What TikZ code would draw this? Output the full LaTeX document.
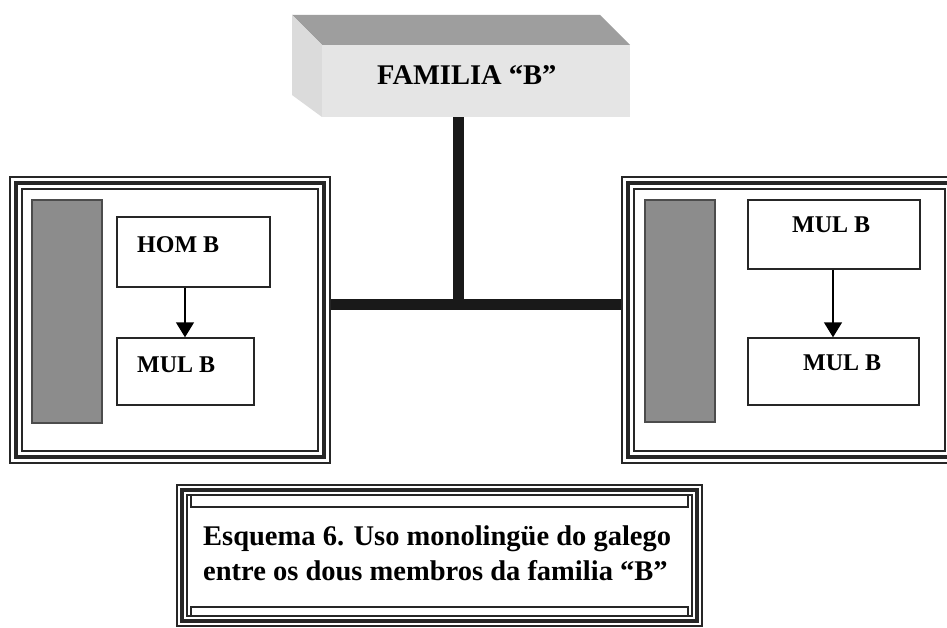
\documentclass[tikz,border=0pt]{standalone}
\usepackage{fontspec}
\setmainfont{Liberation Serif}
\usetikzlibrary{arrows.meta,calc}
\begin{document}
\begin{tikzpicture}[x=1pt,y=-1pt,
  ink/.style={draw=black!85},
  thinl/.style={ink,line width=1.4pt},
  thickl/.style={ink,line width=3.5pt},
  box/.style={thinl,fill=white,rectangle,inner sep=0pt},
  lbl/.style={font=\bfseries\fontsize{24}{28}\selectfont,anchor=base west,inner sep=0pt},
  captxt/.style={font=\bfseries\fontsize{28.5}{34}\selectfont,anchor=base west,inner sep=0pt},
  graybar/.style={fill=black!45,draw=black!70,line width=1.2pt},
  conn/.style={draw=black!90,line width=11pt},
  arr/.style={draw=black,line width=1.4pt,-{Triangle[width=18pt,length=15pt]}}
]
\useasboundingbox (0,0) rectangle (947,628);
\clip (0,0) rectangle (947,628);
\fill[white] (0,0) rectangle (947,628);

% 3D box
\fill[black!38] (292,15) -- (600,15) -- (630,45) -- (322,45) -- cycle;
\fill[black!14] (292,15) -- (322,45) -- (322,117) -- (292,95) -- cycle;
\node[fill=black!10, minimum width=308pt, minimum height=72pt, inner sep=0pt] (fam) at (476,81) {};
\node[captxt] (famt) at (377,85) {FAMILIA “B”};

% left frame
\node[box, minimum width=320pt, minimum height=286pt] (lbox) at (170,320) {};
\draw[thickl] (16,183) rectangle (324,457);
\draw[thinl] (22,189) rectangle (318,451);
\draw[graybar] (32,200) rectangle (102,423);
\node[box, minimum width=153pt, minimum height=70pt] (hom) at (193.5,252) {};
\node[lbl] (homt) at (137,252) {HOM B};
\node[box, minimum width=137pt, minimum height=67pt] (mulL) at (185.5,371.5) {};
\node[lbl] (mulLt) at (137,372) {MUL B};
\coordinate (ax) at (185,0);
\draw[arr] (hom.south -| ax) -- (mulL.north -| ax);

% right frame
\node[box, minimum width=335pt, minimum height=286pt] (rbox) at (789.5,320) {};
\draw[thickl] (628,183) rectangle (951,457);
\draw[thinl] (634,189) rectangle (945,451);
\draw[graybar] (645,200) rectangle (715,422);
\node[box, minimum width=172pt, minimum height=69pt] (mulR1) at (834,234.5) {};
\node[lbl] (mulR1t) at (792,233) {MUL B};
\node[box, minimum width=171pt, minimum height=67pt] (mulR2) at (833.5,371.5) {};
\node[lbl] (mulR2t) at (803,370) {MUL B};
\coordinate (bx) at (833,0);
\draw[arr] (mulR1.south -| bx) -- (mulR2.north -| bx);

% connectors
\coordinate (j) at (458,304);
\draw[conn] (j |- fam.south) -- (j);
\draw[conn] (lbox.east |- j) -- (rbox.west |- j);

% caption
\node[box, minimum width=525pt, minimum height=141pt] (cap) at (439.5,555.5) {};
\draw[thickl] (182,490) rectangle (697,621);
\draw[thinl] (187,495) rectangle (692,616);
\draw[thinl] (191,495) rectangle (688,507);
\draw[thinl] (191,607) rectangle (688,616);
\node[captxt] (cap1) at (203,545) {Esquema 6. Uso monolingüe do galego};
\node[captxt] (cap2) at (203,580) {entre os dous membros da familia “B”};
\end{tikzpicture}
\end{document}
